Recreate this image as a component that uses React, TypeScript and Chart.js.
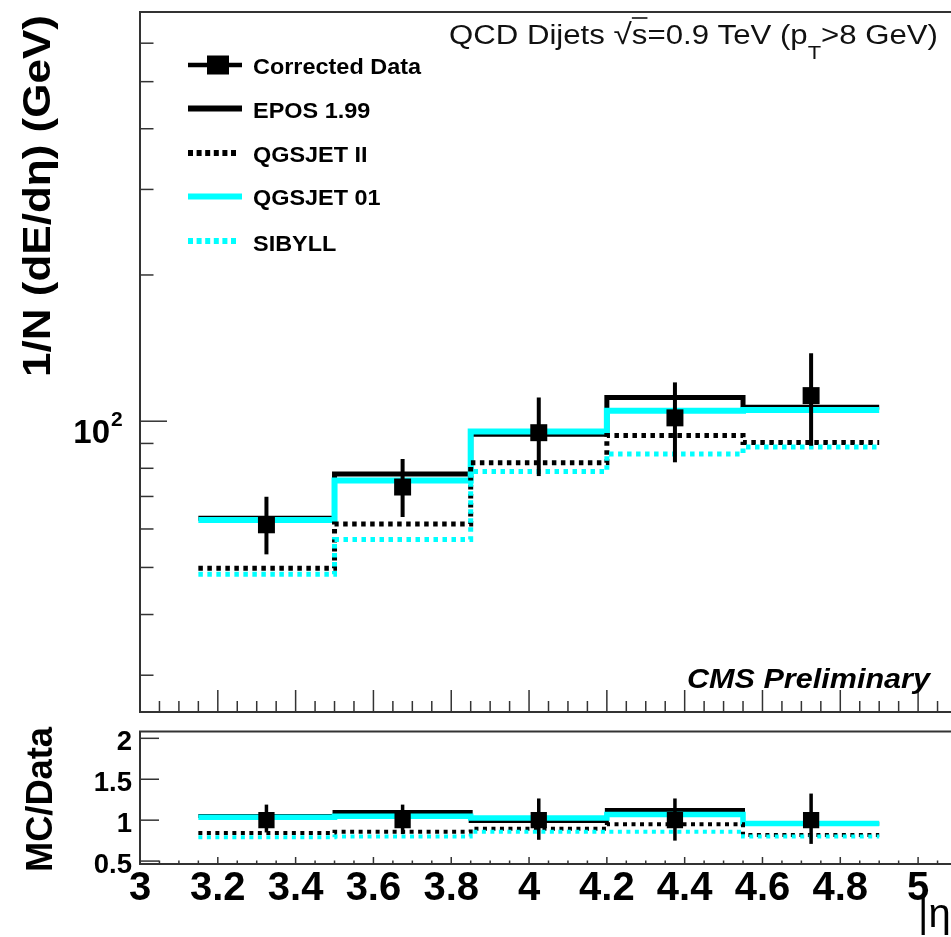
import React, { useEffect, useRef } from "react";
import { Chart, registerables } from "chart.js";
Chart.register(...registerables);

// ---------------- data ----------------
const binEdges = [3.15, 3.5, 3.85, 4.2, 4.55, 4.9];
const etaCenters = [3.325, 3.675, 4.025, 4.375, 4.725];

const dataValues = [61.2, 73.2, 94.7, 101.6, 112.9];
const dataErrUp = [8.7, 10.4, 17.2, 18.6, 25.1];
const dataErrDown = [8.0, 9.7, 17.6, 19.3, 23.9];

const epos = [63.1, 77.9, 94.0, 111.9, 106.9];
const qgsjetII = [49.8, 61.4, 82.1, 93.5, 90.4];
const qgsjet01 = [62.6, 75.5, 95.2, 105.1, 105.4];
const sibyll = [48.4, 57.1, 78.8, 85.6, 88.5];

const ratioData = [1, 1, 1, 1, 1];
const ratioErrUp = [0.19, 0.19, 0.265, 0.265, 0.325];
const ratioErrDown = [0.15, 0.17, 0.24, 0.25, 0.29];
const ratioEpos = [1.05, 1.1, 0.99, 1.123, 0.955];
const ratioQgsjet01 = [1.036, 1.048, 1.027, 1.068, 0.96];
const ratioQgsjetII = [0.842, 0.857, 0.896, 0.95, 0.82];
const ratioSibyll = [0.79, 0.8, 0.857, 0.857, 0.8];

const legendLabels = ["Corrected Data", "EPOS 1.99", "QGSJET II", "QGSJET 01", "SIBYLL"];
const xTickValues = [3, 3.2, 3.4, 3.6, 3.8, 4, 4.2, 4.4, 4.6, 4.8, 5];
const xTickLabels = ["3", "3.2", "3.4", "3.6", "3.8", "4", "4.2", "4.4", "4.6", "4.8", "5"];
const ratioTickValues = [0.5, 1, 1.5, 2];
const ratioTickLabels = ["0.5", "1", "1.5", "2"];
const logMajorTicks = [100];
const logMinorTicks = [30, 40, 50, 60, 70, 80, 90, 200, 300, 400, 500, 600];

const titleText = "QCD Dijets";
const cmsText = "CMS Preliminary";
const yTitleTop = "1/N (dE/d\u03B7) (GeV)";
const yTitleBottom = "MC/Data";
const xTitle = "|\u03B7|";

// ---------------- styles ----------------
const CYAN = "#00ffff";
const FRAME = "#333333";
const SANS = "'Liberation Sans', Arial, sans-serif";

const X_MIN = 3;
const X_MAX = 5.1;

function hist(vals: number[]) {
  const pts = vals.map((v, i) => ({ x: binEdges[i], y: v }));
  pts.push({ x: binEdges[binEdges.length - 1], y: vals[vals.length - 1] });
  return pts;
}

function drawText(
  ctx: CanvasRenderingContext2D,
  s: string,
  x: number,
  y: number,
  font: string,
  opts: { align?: string; width?: number; sx?: number; rot?: number; color?: string } = {}
) {
  ctx.save();
  ctx.font = font;
  ctx.fillStyle = opts.color || "#000";
  ctx.textBaseline = "alphabetic";
  ctx.textAlign = "left";
  const w = ctx.measureText(s).width;
  const sx = opts.width ? opts.width / w : opts.sx || 1;
  ctx.translate(x, y);
  if (opts.rot) ctx.rotate(opts.rot);
  ctx.scale(sx, 1);
  let ox = 0;
  if (opts.align === "center") ox = -w / 2;
  else if (opts.align === "right") ox = -w;
  ctx.fillText(s, ox, 0);
  ctx.restore();
}

function line(ctx: CanvasRenderingContext2D, x1: number, y1: number, x2: number, y2: number) {
  ctx.beginPath();
  ctx.moveTo(x1, y1);
  ctx.lineTo(x2, y2);
  ctx.stroke();
}

function drawErrorBars(chart: any, vals: number[], up: number[], down: number[], width: number) {
  const { ctx, scales } = chart;
  const x = scales.x;
  const y = scales.y;
  ctx.save();
  ctx.strokeStyle = "#000";
  ctx.lineWidth = width;
  etaCenters.forEach((e, i) => {
    const px = x.getPixelForValue(e);
    line(ctx, px, y.getPixelForValue(vals[i] + up[i]), px, y.getPixelForValue(vals[i] - down[i]));
  });
  ctx.restore();
}

const topPlugin = {
  id: "topDecor",
  afterDatasetsDraw(chart: any) {
    drawErrorBars(chart, dataValues, dataErrUp, dataErrDown, 4);
  },
  afterDraw(chart: any) {
    const { ctx, chartArea: a, scales } = chart;
    const x = scales.x;
    const y = scales.y;
    ctx.save();
    // frame
    ctx.strokeStyle = FRAME;
    ctx.lineWidth = 2;
    ctx.strokeRect(a.left, a.top, a.right - a.left, a.bottom - a.top);
    // x ticks (inward, bottom)
    ctx.lineWidth = 1.5;
    for (let i = 0; i <= 42; i++) {
      const v = X_MIN + i * 0.05;
      const px = x.getPixelForValue(v);
      const len = i % 4 === 0 ? 22 : 11;
      line(ctx, px, a.bottom, px, a.bottom - len);
    }
    // y ticks
    logMajorTicks.forEach((v) => {
      const py = y.getPixelForValue(v);
      line(ctx, a.left, py, a.left + 27, py);
    });
    logMinorTicks.forEach((v) => {
      const py = y.getPixelForValue(v);
      line(ctx, a.left, py, a.left + 13.5, py);
    });
    // y tick label 10^2
    const p100 = y.getPixelForValue(100);
    drawText(ctx, "10", 110, p100 + 22, `bold 33px ${SANS}`, { align: "right" });
    drawText(ctx, "2", 111, p100 + 5, `bold 21px ${SANS}`);

    // y title
    drawText(ctx, yTitleTop, 50, 196, `bold 38.5px ${SANS}`, { align: "center", rot: -Math.PI / 2, width: 362 });

    // title with runs
    const runs = [
      { t: titleText + " ", f: `27px ${SANS}`, dy: 0 },
      { t: "\u221A", f: `29px ${SANS}`, dy: 0 },
      { t: "s", f: `27px ${SANS}`, dy: 0, over: true },
      { t: "=0.9 TeV (p", f: `27px ${SANS}`, dy: 0 },
      { t: "T", f: `19px ${SANS}`, dy: 15 },
      { t: ">8 GeV)", f: `27px ${SANS}`, dy: 0 },
    ];
    let total = 0;
    const widths = runs.map((r) => {
      ctx.font = r.f;
      const w = ctx.measureText(r.t).width;
      total += w;
      return w;
    });
    const tx0 = 449;
    const tx1 = 938;
    const tsx = (tx1 - tx0) / total;
    ctx.save();
    ctx.translate(tx0, 44);
    ctx.scale(tsx, 1);
    ctx.fillStyle = "#111";
    ctx.textBaseline = "alphabetic";
    let cx = 0;
    runs.forEach((r, i) => {
      ctx.font = r.f;
      ctx.fillText(r.t, cx, r.dy);
      if ((r as any).over) {
        ctx.strokeStyle = "#111";
        ctx.lineWidth = 1.6;
        line(ctx, cx, -26, cx + widths[i], -26);
      }
      cx += widths[i];
    });
    ctx.restore();

    // CMS Preliminary
    drawText(ctx, cmsText, 930, 688, `italic bold 28px ${SANS}`, { align: "right", width: 243 });

    // legend
    ctx.font = `bold 22px ${SANS}`;
    const lsx = 168 / ctx.measureText(legendLabels[0]).width;
    const rowY = [65, 108.5, 153, 196.5, 241];
    const baseY = [74, 118.3, 161.7, 205, 250.5];
    const ds = chart.data.datasets;
    // row 0: data
    ctx.strokeStyle = "#000";
    ctx.lineWidth = 4.5;
    line(ctx, 188, rowY[0], 242, rowY[0]);
    ctx.fillStyle = "#000";
    ctx.fillRect(218 - 11, rowY[0] - 9.5, 22, 19);
    const order = [null, 0, 1, 2, 3];
    for (let k = 1; k < 5; k++) {
      const d = ds[order[k] as number];
      ctx.save();
      ctx.strokeStyle = d.borderColor;
      ctx.lineWidth = 6;
      if (d.borderDash && d.borderDash.length) {
        ctx.setLineDash([5, 3.6]);
        line(ctx, 188, rowY[k], 238, rowY[k]);
      } else {
        line(ctx, 188, rowY[k], 242, rowY[k]);
      }
      ctx.restore();
    }
    legendLabels.forEach((l, k) => {
      drawText(ctx, l, 253, baseY[k], `bold 22px ${SANS}`, { sx: lsx });
    });
    ctx.restore();
  },
};

const bottomPlugin = {
  id: "bottomDecor",
  afterDatasetsDraw(chart: any) {
    drawErrorBars(chart, ratioData, ratioErrUp, ratioErrDown, 3.5);
  },
  afterDraw(chart: any) {
    const { ctx, chartArea: a, scales } = chart;
    const x = scales.x;
    const y = scales.y;
    ctx.save();
    ctx.strokeStyle = FRAME;
    ctx.lineWidth = 2;
    ctx.strokeRect(a.left, a.top, a.right - a.left, a.bottom - a.top);
    ctx.lineWidth = 1.5;
    for (let i = 0; i <= 42; i++) {
      const v = X_MIN + i * 0.05;
      const px = x.getPixelForValue(v);
      const len = i % 4 === 0 ? 7 : 3.5;
      line(ctx, px, a.bottom, px, a.bottom - len);
    }
    ratioTickValues.forEach((v, i) => {
      const py = y.getPixelForValue(v);
      line(ctx, a.left, py, a.left + 19, py);
      drawText(ctx, ratioTickLabels[i], 132, py + 12, `bold 27.5px ${SANS}`, { align: "right" });
    });
    xTickValues.forEach((v, i) => {
      const px = x.getPixelForValue(v);
      drawText(ctx, xTickLabels[i], px, 180, `bold 40px ${SANS}`, { align: "center" });
    });
    drawText(ctx, yTitleBottom, 51.7, 79.5, `bold 37px ${SANS}`, { align: "center", rot: -Math.PI / 2, width: 145 });
    drawText(ctx, xTitle, 918, 207, `40px ${SANS}`);
    ctx.restore();
  },
};

function histDataset(label: string, vals: number[], color: string, width: number, dashed: boolean, order: number, dash: number[]) {
  return {
    type: "line" as const,
    label,
    data: hist(vals),
    borderColor: color,
    backgroundColor: color,
    borderWidth: width,
    borderDash: dashed ? dash : [],
    stepped: true,
    pointRadius: 0,
    fill: false,
    order,
  };
}

function scatterDataset(vals: number[], r: number) {
  return {
    type: "scatter" as const,
    label: "Corrected Data",
    data: etaCenters.map((e, i) => ({ x: e, y: vals[i] })),
    pointStyle: "rect",
    pointRadius: r,
    backgroundColor: "#000",
    borderColor: "#000",
    borderWidth: 0,
    order: 0,
  };
}

export default function App() {
  const topRef = useRef<HTMLCanvasElement>(null);
  const botRef = useRef<HTMLCanvasElement>(null);

  useEffect(() => {
    const commonX = { type: "linear", min: X_MIN, max: X_MAX, bounds: "data", display: false };
    const topChart = new Chart(topRef.current as HTMLCanvasElement, {
      type: "line",
      data: {
        datasets: [
          histDataset("EPOS 1.99", epos, "#000", 5, false, 4, []),
          histDataset("QGSJET II", qgsjetII, "#000", 5, true, 2, [4.5, 4.5]),
          histDataset("QGSJET 01", qgsjet01, CYAN, 6, false, 3, []),
          histDataset("SIBYLL", sibyll, CYAN, 5, true, 1, [4.5, 4.5]),
          scatterDataset(dataValues, 12),
        ] as any,
      },
      options: {
        animation: false,
        responsive: false,
        layout: { padding: { left: 140, top: 10, right: 13, bottom: 4 } },
        plugins: { legend: { display: false }, tooltip: { enabled: false }, title: { display: false } },
        scales: {
          x: commonX as any,
          y: { type: "logarithmic", min: 25.2, max: 695.6, bounds: "data", display: false } as any,
        },
      },
      plugins: [topPlugin],
    });
    const botChart = new Chart(botRef.current as HTMLCanvasElement, {
      type: "line",
      data: {
        datasets: [
          histDataset("EPOS 1.99", ratioEpos, "#000", 4, false, 4, []),
          histDataset("QGSJET II", ratioQgsjetII, "#000", 4, true, 2, [4, 4.5]),
          histDataset("QGSJET 01", ratioQgsjet01, CYAN, 5.5, false, 3, []),
          histDataset("SIBYLL", ratioSibyll, CYAN, 4, true, 1, [4, 4.5]),
          scatterDataset(ratioData, 11.5),
        ] as any,
      },
      options: {
        animation: false,
        responsive: false,
        layout: { padding: { left: 140, top: 8, right: 13, bottom: 73 } },
        plugins: { legend: { display: false }, tooltip: { enabled: false }, title: { display: false } },
        scales: {
          x: commonX as any,
          y: { type: "linear", min: 0.4643, max: 2.0833, bounds: "data", display: false } as any,
        },
      },
      plugins: [bottomPlugin],
    });
    return () => {
      topChart.destroy();
      botChart.destroy();
    };
  }, []);

  return (
    <div style={{ position: "fixed", left: 0, top: 0, width: 951, height: 937, overflow: "hidden", background: "#fff" }}>
      <canvas ref={topRef} width={970} height={724} style={{ position: "absolute", left: 0, top: 0, width: 970, height: 724 }} />
      <canvas ref={botRef} width={970} height={217} style={{ position: "absolute", left: 0, top: 720, width: 970, height: 217 }} />
    </div>
  );
}
